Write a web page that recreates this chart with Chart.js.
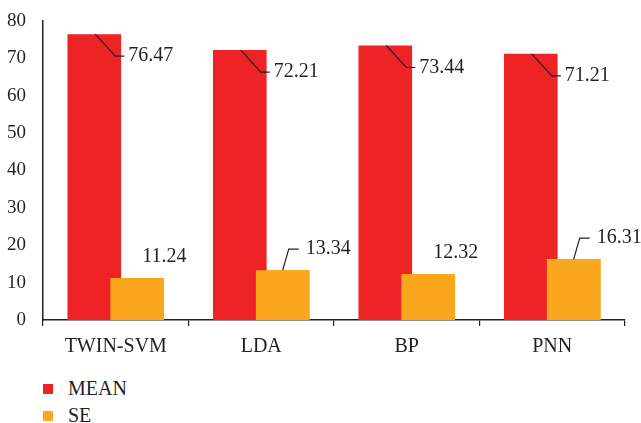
<!DOCTYPE html>
<html>
<head>
<meta charset="utf-8">
<script src="https://cdn.jsdelivr.net/npm/chart.js@4/dist/chart.umd.min.js"></script>
<style>
  body { margin: 0; background: #fff; }
  #wrap { position: relative; width: 641px; height: 423px; }
  #legend { position: absolute; left: 43px; top: 375px; font-family: "Liberation Serif", serif; font-size: 20px; color: #231f20; }
  .item { display: flex; align-items: center; height: 27px; }
  .box { width: 10px; height: 10px; margin-right: 15px; }
</style>
</head>
<body>
<div id="wrap">
  <canvas id="myChart" width="641" height="365" style="width:641px;height:365px"></canvas>
  <div id="legend"></div>
</div>
<script>
var categories = ["TWIN-SVM", "LDA", "BP", "PNN"];
var meanValues = [76.47, 72.21, 73.44, 71.21];
var seValues = [11.24, 13.34, 12.32, 16.31];
var yTicks = [0, 10, 20, 30, 40, 50, 60, 70, 80];

var RED = "#ee2326";
var ORANGE = "#faa71e";
var INK = "#231f20";
var FONT = "Liberation Serif";

// which labels get a leader line
var meanLeader = [true, true, true, true];
var seLeader = [false, true, false, true];

var labelPlugin = {
    id: "barLabels",
    afterDatasetsDraw: function (chart) {
        var ctx = chart.ctx;
        // SE bars sit on top of the MEAN bars where they overlap
        chart.getDatasetMeta(1).data.forEach(function (bar) { bar.draw(ctx); });

        ctx.save();
        ctx.font = "20px '" + FONT + "'";
        ctx.fillStyle = INK;
        ctx.strokeStyle = INK;
        ctx.lineWidth = 1.2;
        ctx.textBaseline = "middle";
        ctx.textAlign = "left";

        var meanMeta = chart.getDatasetMeta(0);
        meanMeta.data.forEach(function (bar, i) {
            var x = bar.x + 1, y = bar.y;
            if (meanLeader[i]) {
                ctx.beginPath();
                ctx.moveTo(x, y);
                ctx.lineTo(x + 20, y + 22);
                ctx.lineTo(x + 29, y + 22);
                ctx.stroke();
            }
            ctx.fillText(meanValues[i].toFixed(2), x + 33, y + 22);
        });

        var seMeta = chart.getDatasetMeta(1);
        seMeta.data.forEach(function (bar, i) {
            var x = bar.x, y = bar.y;
            if (seLeader[i]) {
                ctx.beginPath();
                ctx.moveTo(x, y);
                ctx.lineTo(x + 6, y - 21);
                ctx.lineTo(x + 16, y - 21);
                ctx.stroke();
                ctx.fillText(seValues[i].toFixed(2), x + 23, y - 21);
            } else {
                ctx.fillText(seValues[i].toFixed(2), x + 5, y - 21);
            }
        });
        ctx.restore();
    }
};

var myChartRef = document.getElementById("myChart").getContext("2d");
new Chart(myChartRef, {
    type: "bar",
    data: {
        labels: categories,
        datasets: [
            {
                label: "MEAN",
                data: meanValues,
                backgroundColor: RED,
                categoryPercentage: 0.59,
                barPercentage: 1.25
            },
            {
                label: "SE",
                data: seValues,
                backgroundColor: ORANGE,
                categoryPercentage: 0.59,
                barPercentage: 1.25
            }
        ]
    },
    options: {
        responsive: false,
        animation: false,
        layout: { padding: { top: 21, right: 16, left: 0, bottom: 0 } },
        plugins: {
            legend: { display: false },
            tooltip: { enabled: false }
        },
        scales: {
            x: {
                grid: { display: true, drawOnChartArea: false, drawTicks: true, tickLength: 6, color: INK, lineWidth: 1.2 },
                border: { display: true, color: INK, width: 1.5 },
                ticks: { color: INK, font: { family: FONT, size: 20 }, padding: 9 },
                afterFit: function (s) { s.height = 45; }
            },
            y: {
                min: 0,
                max: 80,
                afterBuildTicks: function (s) { s.ticks = yTicks.map(function (v) { return { value: v }; }); },
                grid: { display: false },
                border: { display: true, color: INK, width: 1.5 },
                ticks: { color: INK, font: { family: FONT, size: 19 }, padding: 9 },
                afterFit: function (s) { s.width = 43; }
            }
        }
    },
    plugins: [labelPlugin]
});

var legend = document.getElementById("legend");
[["MEAN", RED], ["SE", ORANGE]].forEach(function (d) {
    var item = document.createElement("div");
    item.className = "item";
    item.innerHTML = '<span class="box" style="background:' + d[1] + '"></span><span>' + d[0] + '</span>';
    legend.appendChild(item);
});
</script>
</body>
</html>
